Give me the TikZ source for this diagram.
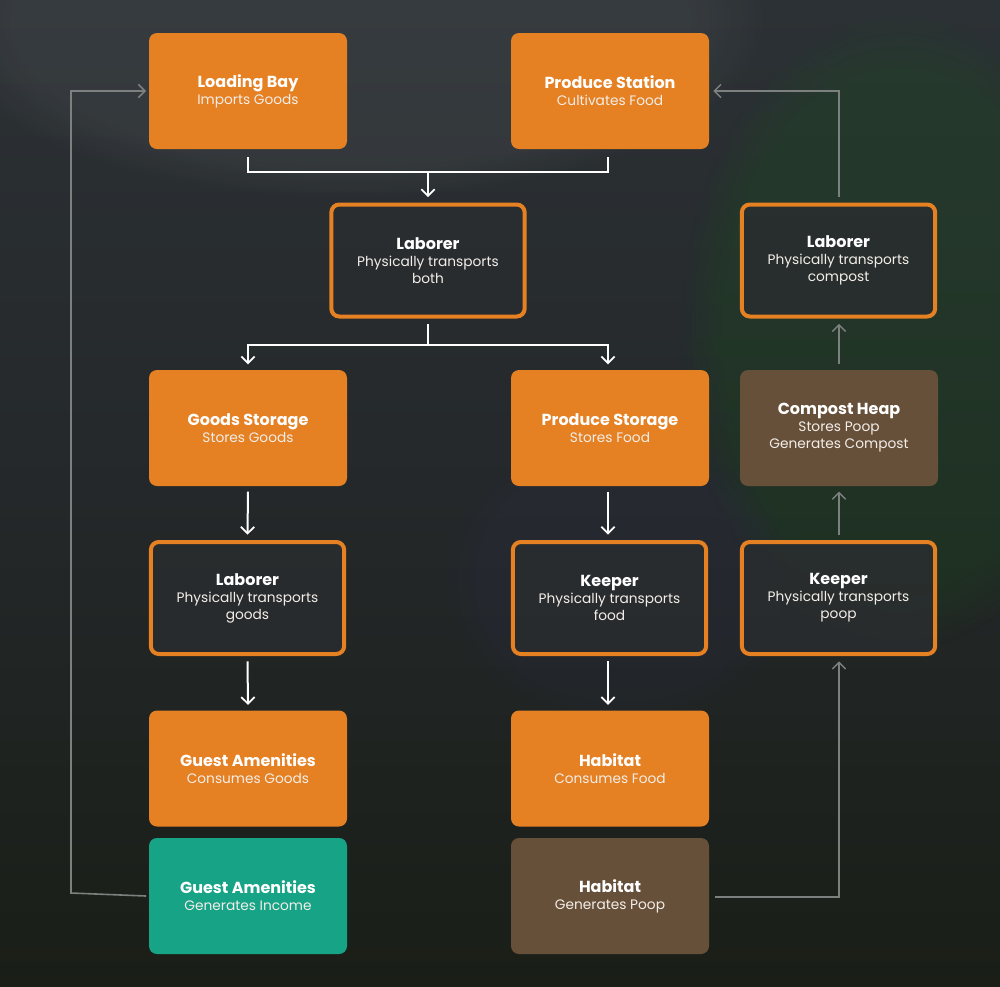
\documentclass[tikz,border=0pt]{standalone}
\usepackage{fontspec}
\setmainfont{Poppins}
\usetikzlibrary{arrows.meta,fadings}
\definecolor{orng}{HTML}{E58023}
\definecolor{brwn}{HTML}{67503A}
\definecolor{teal2}{HTML}{17A386}
\definecolor{darkbox}{HTML}{2A2D2F}
\definecolor{bgtop}{HTML}{2C3135}
\definecolor{bgmid}{HTML}{24282A}
\definecolor{bgbot}{HTML}{1A1E17}
\definecolor{glinec}{HTML}{7C807E}
\definecolor{subw}{HTML}{F3EEE8}
\tikzset{
  box/.style={rounded corners=6pt, minimum width=148.5pt, minimum height=87pt, inner sep=0pt, align=center, text=white, font=\fontsize{10.3pt}{12.8pt}\selectfont},
  obox/.style={box, fill=orng},
  bbox/.style={box, fill=brwn},
  tbox/.style={box, fill=teal2},
  dbox/.style={box, fill=darkbox, fill opacity=0.85, text opacity=1, draw=orng, line width=3pt, minimum width=145pt, minimum height=84pt},
  wline/.style={draw=white, line width=1.5pt},
  warr/.style={wline, -{Straight Barb[length=5pt,width=10pt,line width=1.3pt]}},
  gline/.style={draw=glinec, line width=1.2pt},
  garr/.style={gline, -{Straight Barb[length=5pt,width=10pt,line width=1.1pt]}},
  glow/.style={path fading=circle with fuzzy edge 20 percent},
}
\newcommand{\ttl}[1]{{\fontsize{12pt}{12.8pt}\selectfont\bfseries #1}}
\newcommand{\sub}[1]{{\color{subw}#1}}
\begin{document}
\begin{tikzpicture}[x=0.75pt, y=-0.75pt]
\useasboundingbox (0,0) rectangle (1000,986);
\shade[top color=bgtop, bottom color=bgbot, middle color=bgmid] (0,0) rectangle (1000,986);
\fill[white, opacity=0.05, glow] (350,20) ellipse (420 and 180);
\fill[green!50!black, opacity=0.12, glow] (900,330) ellipse (220 and 320);
\fill[blue!40!gray, opacity=0.05, glow] (620,580) ellipse (180 and 150);

% nodes
\node[obox] (lb) at (248,91) {\ttl{Loading Bay}\\\sub{Imports Goods}};
\node[obox] (ps) at (610,91) {\ttl{Produce Station}\\\sub{Cultivates Food}};
\node[dbox] (lab1) at (428,260.5) {\ttl{Laborer}\\\sub{Physically transports}\\\sub{both}};
\node[dbox] (lab2) at (838.5,260.5) {\ttl{Laborer}\\\sub{Physically transports}\\\sub{compost}};
\node[obox] (gs) at (248,428) {\ttl{Goods Storage}\\\sub{Stores Goods}};
\node[obox] (pst) at (610,428) {\ttl{Produce Storage}\\\sub{Stores Food}};
\node[bbox] (ch) at (839,428) {\ttl{Compost Heap}\\\sub{Stores Poop}\\\sub{Generates Compost}};
\node[dbox] (lab3) at (247.5,598) {\ttl{Laborer}\\\sub{Physically transports}\\\sub{goods}};
\node[dbox] (kp1) at (609.5,598) {\ttl{Keeper}\\\sub{Physically transports}\\\sub{food}};
\node[dbox] (kp2) at (838.5,598) {\ttl{Keeper}\\\sub{Physically transports}\\\sub{poop}};
\node[obox] (ga1) at (248,768.5) {\ttl{Guest Amenities}\\\sub{Consumes Goods}};
\node[obox] (hb1) at (610,768.5) {\ttl{Habitat}\\\sub{Consumes Food}};
\node[tbox] (ga2) at (248,896) {\ttl{Guest Amenities}\\\sub{Generates Income}};
\node[bbox] (hb2) at (610,896) {\ttl{Habitat}\\\sub{Generates Poop}};

% junction coordinates
\coordinate (j1) at (428,172);
\coordinate (j2) at (428,345);
\coordinate (gl) at (71,893);
\coordinate (gr) at (839,897);
\coordinate (gtr) at (839,91);

% white connectors
\draw[wline] ([yshift=-6pt]lb.south) |- (j1) -| ([yshift=-6pt]ps.south -| 608,0);
\draw[warr] (j1) -- ([yshift=4pt]lab1.north);
\draw[wline] ([yshift=-4pt]lab1.south) -- (j2);
\draw[warr] (j2) -| ([yshift=4pt]gs.north);
\draw[warr] (j2) -| ([yshift=4pt]pst.north -| 608,0);
\draw[warr] ([yshift=-4pt]gs.south) -- ([yshift=4pt]lab3.north);
\draw[warr] ([yshift=-4pt]lab3.south) -- ([yshift=4pt]ga1.north);
\draw[warr] ([yshift=-4pt]pst.south -| 608,0) -- ([yshift=4pt]kp1.north -| 608,0);
\draw[warr] ([yshift=-4pt]kp1.south -| 608,0) -- ([yshift=4pt]hb1.north -| 608,0);

% gray connectors
\draw[garr] ([xshift=-2pt]ga2.west) -- (gl) |- ([xshift=-2pt]lb.west);
\draw[garr] ([xshift=4pt]hb2.east |- gr) -- (gr) -- ([yshift=-4pt]kp2.south -| gr);
\draw[garr] ([yshift=4pt]kp2.north -| gr) -- ([yshift=-4pt]ch.south -| gr);
\draw[garr] ([yshift=4pt]ch.north -| gr) -- ([yshift=-4pt]lab2.south -| gr);
\draw[garr] ([yshift=4pt]lab2.north -| gr) -- (gtr) -- ([xshift=3pt]ps.east |- gtr);
\end{tikzpicture}
\end{document}
